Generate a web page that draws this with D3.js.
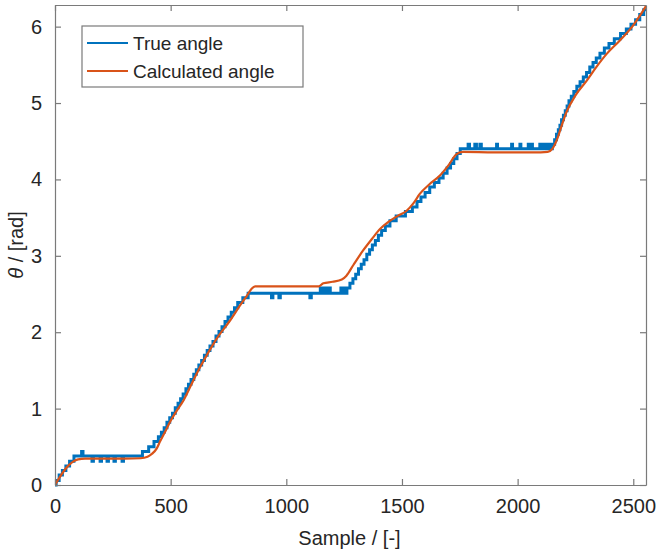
<!DOCTYPE html>
<html>
<head>
<meta charset="utf-8">
<script src="https://cdn.jsdelivr.net/npm/d3@7"></script>
<style>
  body { margin: 0; background: #fff; }
  text { font-family: "Liberation Sans", Arial, sans-serif; fill: #262626; }
</style>
</head>
<body>
<svg id="chart" width="657" height="555"></svg>
<script>
// true angle, stair corners [sample, rad]
const trueAngle = [
  [0,0],[5,0.06],[18,0.13],[32,0.19],[47,0.25],[63,0.31],[82,0.38],
  [115,0.44],[121,0.38],[160,0.31],[166,0.38],[195,0.31],[201,0.38],[225,0.31],[231,0.38],
  [255,0.31],[261,0.38],[290,0.31],[296,0.38],
  [378,0.44],[405,0.50],[428,0.57],[447,0.63],[460,0.69],[472,0.75],[484,0.82],[496,0.88],
  [508,0.94],[520,1.01],[532,1.07],[543,1.13],[554,1.19],[566,1.26],[577,1.32],[588,1.38],
  [600,1.45],[611,1.51],[622,1.57],[634,1.63],[646,1.70],[658,1.76],[670,1.82],[683,1.88],
  [696,1.95],[709,2.01],[722,2.07],[735,2.14],[748,2.20],[762,2.26],[776,2.32],[790,2.39],
  [812,2.45],[835,2.51],
  [936,2.45],[942,2.51],[968,2.45],[974,2.51],[1102,2.45],[1108,2.51],
  [1147,2.58],[1152,2.51],[1158,2.58],[1164,2.51],[1170,2.58],[1176,2.51],[1182,2.58],[1190,2.51],
  [1236,2.58],[1242,2.51],[1248,2.58],[1253,2.51],
  [1262,2.58],[1275,2.64],[1288,2.70],[1300,2.76],[1312,2.83],[1324,2.89],[1336,2.95],
  [1348,3.02],[1360,3.08],[1372,3.14],[1385,3.20],[1398,3.27],[1412,3.33],[1428,3.39],
  [1448,3.46],[1475,3.52],[1515,3.58],[1545,3.64],[1565,3.71],[1582,3.77],[1600,3.83],
  [1620,3.90],[1640,3.96],[1660,4.02],[1678,4.08],[1695,4.15],[1710,4.21],[1724,4.27],
  [1738,4.34],[1752,4.40],
  [1786,4.46],[1792,4.40],[1815,4.46],[1822,4.40],[1837,4.46],[1843,4.40],[1909,4.46],[1913,4.40],
  [1974,4.46],[1978,4.40],[2010,4.46],[2014,4.40],[2046,4.46],[2050,4.40],[2060,4.46],[2064,4.40],
  [2096,4.46],[2102,4.40],[2108,4.46],[2114,4.40],[2120,4.46],[2126,4.40],[2132,4.46],[2139,4.40],
  [2150,4.46],[2160,4.52],[2168,4.59],[2176,4.65],[2183,4.71],[2190,4.78],[2198,4.84],
  [2206,4.90],[2214,4.96],[2222,5.03],[2232,5.09],[2243,5.15],[2256,5.22],[2270,5.28],
  [2284,5.34],[2298,5.40],[2312,5.47],[2326,5.53],[2340,5.59],[2356,5.65],[2375,5.72],
  [2395,5.78],[2418,5.84],[2445,5.91],[2470,5.97],[2490,6.03],[2510,6.09],[2528,6.16],
  [2545,6.22],[2555,6.22]
];

// calculated angle [sample, rad]
const calcAngle = [
  [0,0],[20,0.1],[40,0.19],[60,0.26],[80,0.31],[100,0.335],[130,0.345],[200,0.345],
  [300,0.345],[370,0.35],[400,0.37],[420,0.41],[440,0.48],[454,0.57],[480,0.72],[500,0.84],
  [526,0.97],[554,1.1],[590,1.32],[627,1.54],[660,1.72],[700,1.92],[756,2.15],[800,2.35],
  [830,2.48],[850,2.57],[865,2.6],[1000,2.6],[1140,2.6],[1160,2.64],[1200,2.66],[1240,2.69],
  [1260,2.74],[1290,2.88],[1332,3.07],[1370,3.22],[1405,3.35],[1440,3.44],[1480,3.52],
  [1520,3.59],[1550,3.69],[1577,3.81],[1620,3.94],[1664,4.05],[1700,4.18],[1736,4.33],
  [1764,4.36],[1900,4.355],[2100,4.355],[2130,4.36],[2150,4.4],[2170,4.52],[2190,4.7],[2211,4.88],
  [2250,5.1],[2298,5.29],[2340,5.47],[2384,5.64],[2442,5.82],[2498,6.01],[2530,6.15],[2555,6.27]
];

const xTicks = [0, 500, 1000, 1500, 2000, 2500];
const yTicks = [0, 1, 2, 3, 4, 5, 6];
const legendNames = ["True angle", "Calculated angle"];
const colors = ["#0072BD", "#D95319"];

const svg = d3.select("#chart");
const mLeft = 55, mRight = 646, mTop = 5, mBottom = 485;

const x = d3.scaleLinear().domain([0, 2555]).range([mLeft, mRight]);
const y = d3.scaleLinear().domain([0, 2 * Math.PI]).range([mBottom, mTop]);

const axisColor = "#7a7a7a";
const tickLen = 6;

// lines
const blueLine = d3.line().x(d => x(d[0])).y(d => y(d[1])).curve(d3.curveStepAfter);
const orangeLine = d3.line().x(d => x(d[0])).y(d => y(d[1])).curve(d3.curveMonotoneX);

const plot = svg.append("g");
plot.append("defs").append("clipPath").attr("id", "clip")
  .append("rect").attr("x", mLeft).attr("y", mTop - 2)
  .attr("width", mRight - mLeft + 2).attr("height", mBottom - mTop + 4);

plot.append("path")
  .datum(trueAngle)
  .attr("d", blueLine)
  .attr("fill", "none")
  .attr("stroke", colors[0])
  .attr("stroke-width", 3)
  .attr("clip-path", "url(#clip)");

plot.append("path")
  .datum(calcAngle)
  .attr("d", orangeLine)
  .attr("fill", "none")
  .attr("stroke", colors[1])
  .attr("stroke-width", 2.2)
  .attr("clip-path", "url(#clip)");

// axes (box with inward ticks)
const fmt = d3.format("d");
const xAxis = svg.append("g").attr("transform", `translate(0,${mBottom})`)
  .call(d3.axisBottom(x).tickValues(xTicks).tickFormat(fmt)
    .tickSizeInner(-tickLen).tickSizeOuter(0).tickPadding(14));
const xTop = svg.append("g").attr("transform", `translate(0,${mTop})`)
  .call(d3.axisTop(x).tickValues(xTicks).tickSizeInner(-tickLen).tickSizeOuter(0).tickFormat(""));
const yAxis = svg.append("g").attr("transform", `translate(${mLeft},0)`)
  .call(d3.axisLeft(y).tickValues(yTicks).tickFormat(fmt)
    .tickSizeInner(-tickLen).tickSizeOuter(0).tickPadding(13));
const yRight = svg.append("g").attr("transform", `translate(${mRight},0)`)
  .call(d3.axisRight(y).tickValues(yTicks).tickSizeInner(-tickLen).tickSizeOuter(0).tickFormat(""));

[xAxis, xTop, yAxis, yRight].forEach(g => {
  g.select(".domain").attr("stroke", axisColor).attr("stroke-width", 1.2);
  g.selectAll(".tick line").attr("stroke", axisColor).attr("stroke-width", 1.2);
  g.selectAll(".tick text").attr("font-size", 20).attr("fill", "#262626")
    .attr("font-family", "'Liberation Sans', Arial, sans-serif");
});

// axis labels
svg.append("text")
  .attr("x", (mLeft + mRight) / 2 - 1)
  .attr("y", 545)
  .attr("text-anchor", "middle")
  .attr("font-size", 20)
  .text("Sample / [-]");

const yl = svg.append("text")
  .attr("transform", `translate(23,${(mTop + mBottom) / 2}) rotate(-90)`)
  .attr("text-anchor", "middle")
  .attr("font-size", 20);
yl.append("tspan").attr("font-style", "italic").text("\u03B8");
yl.append("tspan").text(" / [rad]");

// legend
const lg = svg.append("g");
lg.append("rect")
  .attr("x", 82).attr("y", 26).attr("width", 221).attr("height", 61)
  .attr("fill", "#fff").attr("stroke", axisColor).attr("stroke-width", 1.2);
legendNames.forEach((name, i) => {
  const cy = 43 + i * 28;
  lg.append("line")
    .attr("x1", 87).attr("x2", 128).attr("y1", cy).attr("y2", cy)
    .attr("stroke", colors[i]).attr("stroke-width", 2);
  lg.append("text")
    .attr("x", 133).attr("y", cy + 7)
    .attr("font-size", 19)
    .text(name);
});
</script>
</body>
</html>
